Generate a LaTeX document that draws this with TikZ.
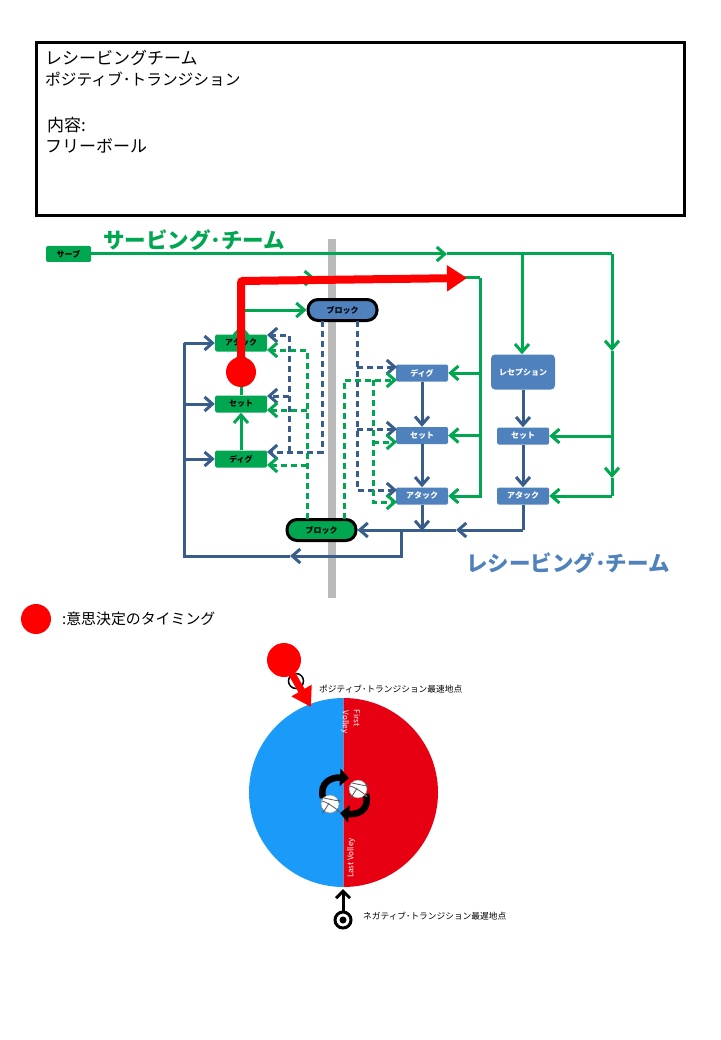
\documentclass[tikz,border=0pt]{standalone}
\usepackage{fontspec}
\setmainfont{Noto Sans CJK JP}
\usetikzlibrary{arrows.meta}
\definecolor{grn}{HTML}{00A650}
\definecolor{navy}{HTML}{385D8A}
\definecolor{steel}{HTML}{4F81BD}
\definecolor{wheelblue}{HTML}{1A9BFA}
\definecolor{wheelred}{HTML}{E60012}
\tikzset{
  gbox/.style={fill=grn,rounded corners=1.5pt,minimum width=52pt,minimum height=17pt,inner sep=0pt,font=\bfseries\fontsize{8}{8}\selectfont},
  bbox/.style={fill=steel,text=white,rounded corners=1.5pt,minimum width=52pt,minimum height=17pt,inner sep=0pt,font=\bfseries\fontsize{8}{8}\selectfont},
  pill/.style={draw=black,line width=3pt,rounded corners=10pt,minimum width=69pt,minimum height=21pt,inner sep=0pt,font=\bfseries\fontsize{8}{8}\selectfont},
  gline/.style={draw=grn,line width=3pt},
  bline/.style={draw=navy,line width=3pt},
  gdash/.style={draw=grn,line width=3pt,dash pattern=on 6pt off 4pt},
  bdash/.style={draw=navy,line width=3pt,dash pattern=on 6pt off 4pt},
  dot/.style={circle,fill=red,inner sep=0pt,minimum size=#1},
  ball/.style={circle,fill=white,draw=black!45,line width=.5pt,inner sep=0pt,minimum size=18pt},
  note/.style={inner sep=0pt,anchor=west,font=\fontsize{8.7}{8.7}\selectfont},
  title/.style={anchor=west,inner sep=0pt,font=\fontsize{#1}{#1}\selectfont},
  team/.style={anchor=west,inner sep=0pt,font=\bfseries\fontsize{21.5}{21.5}\selectfont},
  swoop/.style={line width=6.5pt,-{Triangle[length=9pt,width=17pt]}}
}
\newcommand{\seams}[1]{%
  \draw[black!65,line width=.8pt] (#1)+(-8,-3) .. controls +(6,1) and +(8,4) .. +(7,7);
  \draw[black!65,line width=.8pt] (#1)+(-6,-6) .. controls +(5,1) and +(9,3) .. +(8,-4);
  \draw[black!65,line width=.8pt] (#1)+(-1,-1) .. controls +(-2,4) and +(-4,7) .. +(-6,6);
}
\begin{document}
\begin{tikzpicture}[x=1pt,y=-1pt,>={Straight Barb[length=8pt,width=14pt]}]
\useasboundingbox (0,0) rectangle (720,1040);
% header
\node (frame) [draw,line width=2.6pt,minimum width=648pt,minimum height=173pt,inner sep=0pt] at (360.5,129) {};
\node (title1) [title=17] at (45,58) {レシービングチーム};
\node (title2) [title=15.7] at (45,79) {ポジティブ･トランジション};
\node (title3) [title=17] at (47,125) {内容:};
\node (title4) [title=17] at (45,146) {フリーボール};
% net
\fill[black!27] (328,239) rectangle (336,598);
\node (serveteam) [team,text=grn] at (103,240) {サービング･チーム};
\node (recvteam) [team,text=steel] at (466,563) {レシービング･チーム};
% serving side
\node (serve) [gbox,minimum width=45pt,minimum height=16pt] at (68.5,254) {サーブ};
\node (attackL) [gbox] at (241,343) {アタック};
\node (setL) [gbox] at (241,404) {セット};
\node (digL) [gbox] at (241,459) {ディグ};
\node (blockT) [pill,fill=steel] at (342.5,310) {ブロック};
\node (blockB) [pill,fill=grn] at (321.5,530) {ブロック};
% receiving side
\node (digR) [bbox] at (422,373) {ディグ};
\node (setR) [bbox] at (422,435.5) {セット};
\node (attackR) [bbox] at (422,496) {アタック};
\node (recep) [bbox,rounded corners=4pt,minimum width=64pt,minimum height=35pt] at (523,372) {レセプション};
\node (setF) [bbox] at (523,436) {セット};
\node (attackF) [bbox] at (523,496) {アタック};
% green solid lines
\coordinate (g1) at (447,254);
\coordinate (g2) at (522,254);
\coordinate (g3) at (612,254);
\coordinate (g4) at (612,351);
\coordinate (g5) at (612,436);
\coordinate (g6) at (612,478);
\coordinate (g7) at (612,496);
\draw[gline,->] (serve.east) -- (g1);
\draw[gline] (g1) -- (g3);
\draw[gline,->] (g2) -- (recep.north-|g2);
\draw[gline,->] (g3) -- (g4);
\draw[gline,->] (g4) -- (g6);
\draw[gline] (g6) -- (g7);
\draw[gline,->] (g5) -- (setF.east);
\draw[gline,->] (g7) -- (attackF.east);
\coordinate (h1) at (241,279);
\coordinate (h2) at (315,278);
\coordinate (h3) at (480,278);
\coordinate (h4) at (241,310);
\coordinate (h5) at (241,325);
\draw[gline,->] (h1) -- (h2);
\draw[gline] (h2) -- (h3);
\draw[gline,->] (h3) |- (attackR.east);
\draw[gline,->] (h3|-digR) -- (digR.east);
\draw[gline,->] (h3|-setR) -- (setR.east);
\draw[gline,->] (h4) -- (blockT.west);
\draw[gline,->] (attackL.north) -- (h5);
\draw[gline,->] (setL.north) -- (attackL.south);
\draw[gline,->] (digL.north) -- (setL.south);
% navy solid lines
\draw[bline,->] (digR.south) -- (setR.north);
\draw[bline,->] (setR.south) -- (attackR.north);
\draw[bline,->] (recep.south) -- (setF.north);
\draw[bline,->] (setF.south) -- (attackF.north);
\coordinate (b1) at (523,530);
\coordinate (b2) at (456,530);
\coordinate (b3) at (422,530);
\coordinate (b4) at (401,530);
\coordinate (b5) at (401,556);
\coordinate (b6) at (290,556);
\coordinate (b7) at (184,556);
\coordinate (b8) at (184,343);
\draw[bline] (attackF.south) -- (b1);
\draw[bline,->] (b1) -- (b2);
\draw[bline,->] (b2) -- (blockB.east);
\draw[bline,->] (attackR.south) -- ([yshift=-1pt]b3);
\draw[bline,->] (b4) -- (b5) -- (b6);
\draw[bline] (b6) -- (b7) -- (b8);
\draw[bline,->] (b8) -- (attackL.west);
\draw[bline,->] (b8|-setL) -- (setL.west);
\draw[bline,->] (b8|-digL) -- (digL.west);
% dashed, serving side
\coordinate (a1) at (267,335);
\coordinate (a2) at (267,396);
\coordinate (a3) at (267,452);
\coordinate (a4) at (267,350);
\coordinate (a5) at (267,410);
\coordinate (a6) at (267,465);
\draw[bdash,->] (322,321) -- (322,452) -- (a3);
\draw[bdash,->] (289,452) -- (289,335) -- (a1);
\draw[bdash,->] (289,396) -- (a2);
\draw[gdash,->] (307,519) -- (307,350) -- (a4);
\draw[gdash,->] (307,410) -- (a5);
\draw[gdash,->] (307,465) -- (a6);
% dashed, receiving side
\coordinate (c1) at (397,367);
\coordinate (c2) at (397,429);
\coordinate (c3) at (397,490);
\coordinate (c4) at (397,380);
\coordinate (c5) at (397,442);
\coordinate (c6) at (397,502);
\draw[bdash,->] (357,321) -- (357,490) -- (c3);
\draw[bdash,->] (357,367) -- (c1);
\draw[bdash,->] (357,429) -- (c2);
\draw[gdash,->] (344,519) -- (344,380) -- (c4);
\draw[gdash,->] (373,380) -- (373,502) -- (c6);
\draw[gdash,->] (373,442) -- (c5);
% decision timing
\node (timing) [dot=30pt] at (241,372) {};
\coordinate (r1) at (241,281);
\coordinate (r2) at (467,278);
\draw[red,line width=8pt,rounded corners=2pt,-{Triangle[length=20pt,width=25pt]}] (timing.center) -- (r1) -- (r2);
\node (legenddot) [dot=30pt] at (36,619) {};
\node (legend) [anchor=west,inner sep=0pt,font=\fontsize{14.9}{14.9}\selectfont] at (62,619) {:意思決定のタイミング};
% wheel
\fill[wheelblue] (343.5,698) arc (90:270:94.5pt) -- cycle;
\fill[wheelred] (343.5,698) arc (90:-90:94.5pt) -- cycle;
\node (first) [rotate=-90,text=white,inner sep=0pt,font=\fontsize{8}{8}\selectfont] at (357,718) {First};
\node (volley) [rotate=-90,text=white,inner sep=0pt,font=\fontsize{8}{8}\selectfont] at (345,722) {Volley};
\node (last) [rotate=90,text=white,inner sep=0pt,font=\fontsize{8}{8}\selectfont] at (351,858) {Last Volley};
\draw[swoop] (323,798) .. controls (319,782) and (332,777) .. (349,778);
\draw[swoop] (366,794) .. controls (370,810) and (358,815) .. (340,813);
\node (ballA) [ball] at (358,789) {};
\node (ballB) [ball] at (330,804) {};
\seams{ballA}
\seams{ballB}
% fastest point
\node (ringT) [circle,draw,line width=1.5pt,inner sep=0pt,minimum size=15pt] at (296,681) {};
\node (dotT) [dot=34pt] at (284,660) {};
\coordinate (tipT) at (311,707);
\draw[red,line width=7pt,-{Triangle[length=19pt,width=22pt]}] (dotT.center) -- (tipT);
\node (fast) [note] at (319,689) {ポジティブ･トランジション最速地点};
% latest point
\node (ringB) [circle,draw,line width=3pt,fill=white,inner sep=0pt,minimum size=16pt] at (343,920) {};
\node (coreB) [circle,fill=black,inner sep=0pt,minimum size=7pt] at (343,920) {};
\coordinate (tipB) at (343,889);
\draw[line width=3pt,-{Straight Barb[length=7pt,width=14pt]}] (ringB.north) -- (tipB);
\node (slow) [note] at (363,916) {ネガティブ･トランジション最遅地点};
\end{tikzpicture}
\end{document}
